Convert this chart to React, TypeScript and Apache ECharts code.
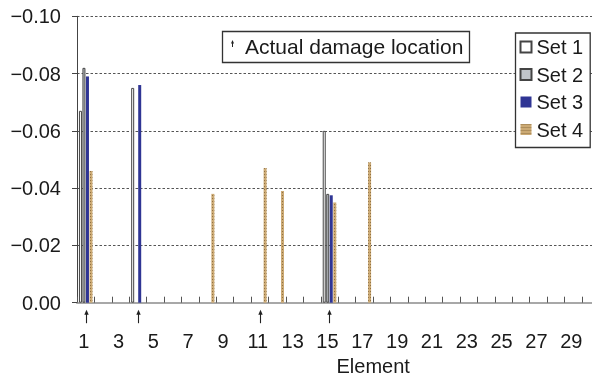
import React, { useEffect, useRef } from 'react';
import * as echarts from 'echarts';

// ---- data ----
const ELEMENTS = ['1','2','3','4','5','6','7','8','9','10','11','12','13','14','15','16','17','18','19','20','21','22','23','24','25','26','27','28','29','30'];
// [element number, value]
const SET1: [number, number][] = [[1, -0.067], [4, -0.075], [15, -0.060]];
const SET2: [number, number][] = [[1, -0.082], [15, -0.038]];
const SET3: [number, number][] = [[1, -0.079], [4, -0.076], [15, -0.0375]];
const SET4: [number, number][] = [[1, -0.046], [8, -0.038], [11, -0.047], [12, -0.039], [15, -0.035], [17, -0.049]];
const DAMAGE_ELEMENTS = [1, 4, 11, 15];
const Y_MIN = -0.1;
const Y_MAX = 0;
const Y_STEP = 0.02;

const FONT = '"Liberation Sans", Arial, Helvetica, sans-serif';

const toData = (arr: [number, number][]) => arr.map(([e, v]) => [e - 1, v]);

export default function App() {
  const ref = useRef<HTMLDivElement>(null);
  useEffect(() => {
    if (!ref.current) return;
    const chart = echarts.init(ref.current, undefined, { renderer: 'svg' });
    const barBase = { type: 'bar', barWidth: 3, barGap: '17%', animation: false } as any;
    chart.setOption({
      animation: false,
      textStyle: { fontFamily: FONT },
      grid: { left: 77, top: 16.3, bottom: 75.3, right: -7.4, outerBoundsMode: 'none', containLabel: false },
      legend: {
        data: ['Set 1', 'Set 2', 'Set 3', 'Set 4'],
        orient: 'vertical',
        left: 515.5,
        top: 33,
        icon: 'rect',
        itemWidth: 11,
        itemHeight: 11,
        itemGap: 7.5,
        padding: [4, 7, 8, 4],
        backgroundColor: '#fff',
        borderColor: '#333',
        borderWidth: 1.3,
        textStyle: { fontSize: 20, lineHeight: 20, color: '#1a1a1a', fontFamily: FONT },
        selectedMode: false,
      },
      xAxis: {
        type: 'category',
        data: ELEMENTS,
        name: 'Element',
        nameLocation: 'middle',
        nameGap: 49,
        nameTextStyle: { fontSize: 20, lineHeight: 20, color: '#1a1a1a', fontFamily: FONT, padding: [0, 0, 0, 70] },
        axisLine: { show: true, lineStyle: { color: '#a8a8a8', width: 2 } },
        axisTick: { show: true, inside: true, length: 6, interval: 0, lineStyle: { color: '#555', width: 1 } },
        axisLabel: { interval: 1, margin: 28, fontSize: 20, lineHeight: 20, color: '#1a1a1a', fontFamily: FONT, padding: [0, 4, 0, 0] },
        splitLine: { show: false },
      },
      yAxis: {
        type: 'value',
        inverse: true,
        min: Y_MIN,
        max: Y_MAX,
        interval: Y_STEP,
        axisLine: { show: true, lineStyle: { color: '#444', width: 1 } },
        axisTick: { show: true, inside: false, length: 5, lineStyle: { color: '#444' } },
        axisLabel: {
          margin: 16,
          fontSize: 20,
          color: '#1a1a1a',
          fontFamily: FONT,
          formatter: (v: number) => (Math.abs(v) < 1e-9 ? '0.00' : '\u2212' + Math.abs(v).toFixed(2)),
        },
        splitLine: { show: true, lineStyle: { color: '#555', type: [2.5, 2], width: 1 } },
      },
      series: [
        { ...barBase, name: 'Set 1', data: toData(SET1), itemStyle: { color: '#ffffff', borderColor: '#444', borderWidth: 1 } },
        { ...barBase, name: 'Set 2', data: toData(SET2), itemStyle: { color: '#c0c4c9', borderColor: '#444', borderWidth: 1 } },
        { ...barBase, name: 'Set 3', data: toData(SET3), itemStyle: { color: '#2f3594' } },
        {
          ...barBase,
          name: 'Set 4',
          data: toData(SET4),
          itemStyle: {
            color: '#ccaa74',
            decal: { symbol: 'rect', symbolSize: 1, color: 'rgba(105,75,35,0.6)', dashArrayX: [1, 1], dashArrayY: [1, 2], rotation: 0 },
          },
        },
        {
          type: 'custom',
          name: 'damage',
          silent: true,
          clip: false,
          data: DAMAGE_ELEMENTS.map((e) => [e - 1, 0]),
          encode: { x: 0, y: 1 },
          renderItem: (params: any, api: any) => {
            const p = api.coord([api.value(0), 0]);
            const x = Math.round(p[0]) + 0.5;
            const y = p[1];
            return {
              type: 'group',
              children: [
                { type: 'line', shape: { x1: x, y1: y + 10, x2: x, y2: y + 20.5 }, style: { stroke: '#222', lineWidth: 1.1 } },
                { type: 'polygon', shape: { points: [[x - 2.2, y + 12], [x, y + 7], [x + 2.2, y + 12]] }, style: { fill: '#222' } },
              ],
            };
          },
        },
      ],
      graphic: [
        { type: 'rect', shape: { x: 222.5, y: 31.5, width: 247, height: 31 }, style: { fill: '#fff', stroke: '#333', lineWidth: 1.3 }, z: 10 },
        { type: 'line', shape: { x1: 232.5, y1: 41.5, x2: 232.5, y2: 47 }, style: { stroke: '#222', lineWidth: 1 }, z: 11 },
        { type: 'polygon', shape: { points: [[231, 43.5], [232.5, 40], [234, 43.5]] }, style: { fill: '#222' }, z: 11 },
        {
          type: 'text', x: 245, y: 46, z: 11,
          style: { text: 'Actual damage location', fontSize: 21, fontFamily: FONT, fill: '#1a1a1a', verticalAlign: 'middle' },
        },
      ],
    });
    return () => chart.dispose();
  }, []);
  return <div ref={ref} style={{ position: 'fixed', left: 0, top: 0, width: 592, height: 378 }} />;
}
